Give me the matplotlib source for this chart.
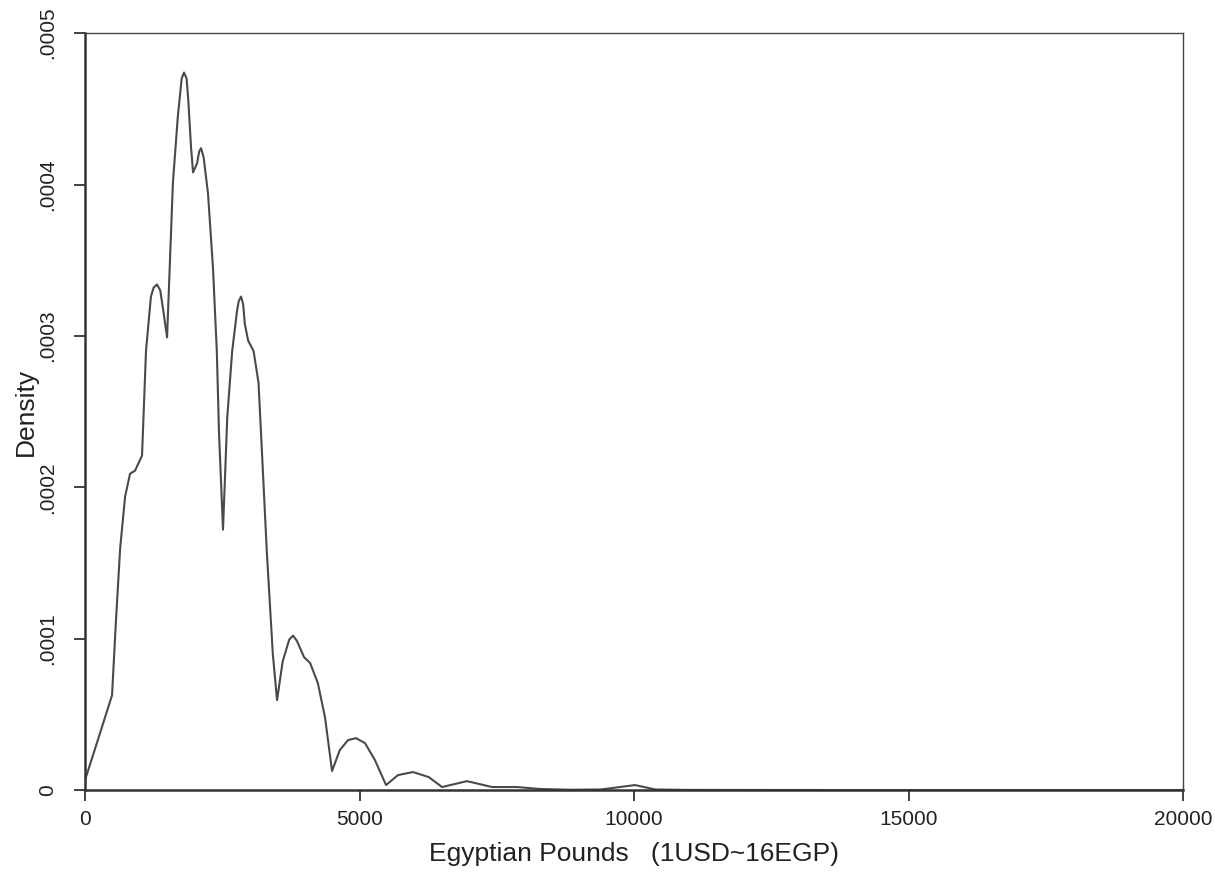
import matplotlib.pyplot as plt
from matplotlib.ticker import FuncFormatter

# ----------------- 数据 -----------------
# kernel density of monthly income (EGP), read point by point
income = [
    0, 250, 492, 560, 640, 730, 820, 911, 1038, 1110, 1200, 1250, 1311, 1370,
    1420, 1494, 1600, 1690, 1760, 1803, 1850, 1880, 1930, 1967, 2040, 2080,
    2113, 2160, 2240, 2330, 2400, 2440, 2513, 2590, 2680, 2770, 2800, 2841,
    2880, 2910, 2970, 3070, 3160, 3220, 3310, 3420, 3497, 3600, 3720, 3789,
    3860, 3989, 4100, 4240, 4370, 4499, 4640, 4790, 4936, 5100, 5280, 5483,
    5700, 5974, 6260, 6503, 6958, 7413, 7868, 8290, 8834, 9400, 10018, 10383,
    11000, 14000, 20000,
]
density = [
    0.0000066, 0.000035, 0.0000627, 0.00011, 0.00016, 0.000194, 0.000209,
    0.000211, 0.000221, 0.00029, 0.000326, 0.000332, 0.000334, 0.00033,
    0.000318, 0.000299, 0.000401, 0.000445, 0.00047, 0.000474, 0.00047,
    0.000456, 0.000425, 0.000408, 0.000414, 0.000422, 0.000424, 0.000418,
    0.000394, 0.000345, 0.00029, 0.000236, 0.000172, 0.000246, 0.00029,
    0.000317, 0.000323, 0.000326, 0.000321, 0.000308, 0.000297, 0.00029,
    0.000269, 0.000225, 0.000158, 0.00009, 0.0000594, 0.000085, 0.0000995,
    0.000102, 0.0000985, 0.0000878, 0.0000839, 0.0000707, 0.0000482,
    0.0000126, 0.0000264, 0.000033, 0.0000343, 0.000031, 0.0000198,
    0.0000033, 0.0000099, 0.0000119, 0.0000086, 0.000002, 0.0000059,
    0.000002, 0.000002, 0.0000007, 0.0000002, 0.0000004, 0.0000033,
    0.0000004, 0.0000001, 0.0, 0.0,
]

x_ticks = [0, 5000, 10000, 15000, 20000]
y_ticks = [0, 0.0001, 0.0002, 0.0003, 0.0004, 0.0005]

plt.rcParams["font.family"] = ["Liberation Sans Narrow", "Liberation Sans", "DejaVu Sans"]


def stata_fmt(v, pos):
    # 0.0001 -> .0001
    if v == 0:
        return "0"
    return f"{v:.4f}".lstrip("0")


fig = plt.figure(figsize=(12.15, 8.73), dpi=100)
ax = fig.add_axes([0.07, 0.095, 0.9037, 0.867])

ax.plot(income, density, color="#4a4a4a", linewidth=1.5, solid_joinstyle="round")

ax.set_xlim(0, 20000)
ax.set_ylim(0, 0.0005)
ax.set_xticks(x_ticks)
ax.set_yticks(y_ticks)
ax.yaxis.set_major_formatter(FuncFormatter(stata_fmt))
ax.tick_params(axis="both", direction="out", length=8, width=1.3,
               color="#333333", labelsize=15, labelcolor="#222222")
ax.tick_params(axis="x", pad=6)
ax.tick_params(axis="y", pad=12)
for lbl in ax.get_yticklabels():
    lbl.set_rotation(90)
    lbl.set_va("center")

for side in ["left", "bottom"]:
    ax.spines[side].set_linewidth(1.8)
    ax.spines[side].set_color("#333333")
for side in ["top", "right"]:
    ax.spines[side].set_linewidth(1.0)
    ax.spines[side].set_color("#444444")

ax.set_xlabel("Egyptian Pounds   (1USD~16EGP)", fontsize=19, color="#222222", labelpad=10)
ax.set_ylabel("Density", fontsize=19, color="#222222", labelpad=0)

fig.savefig("out.png", dpi=100, facecolor="white")
